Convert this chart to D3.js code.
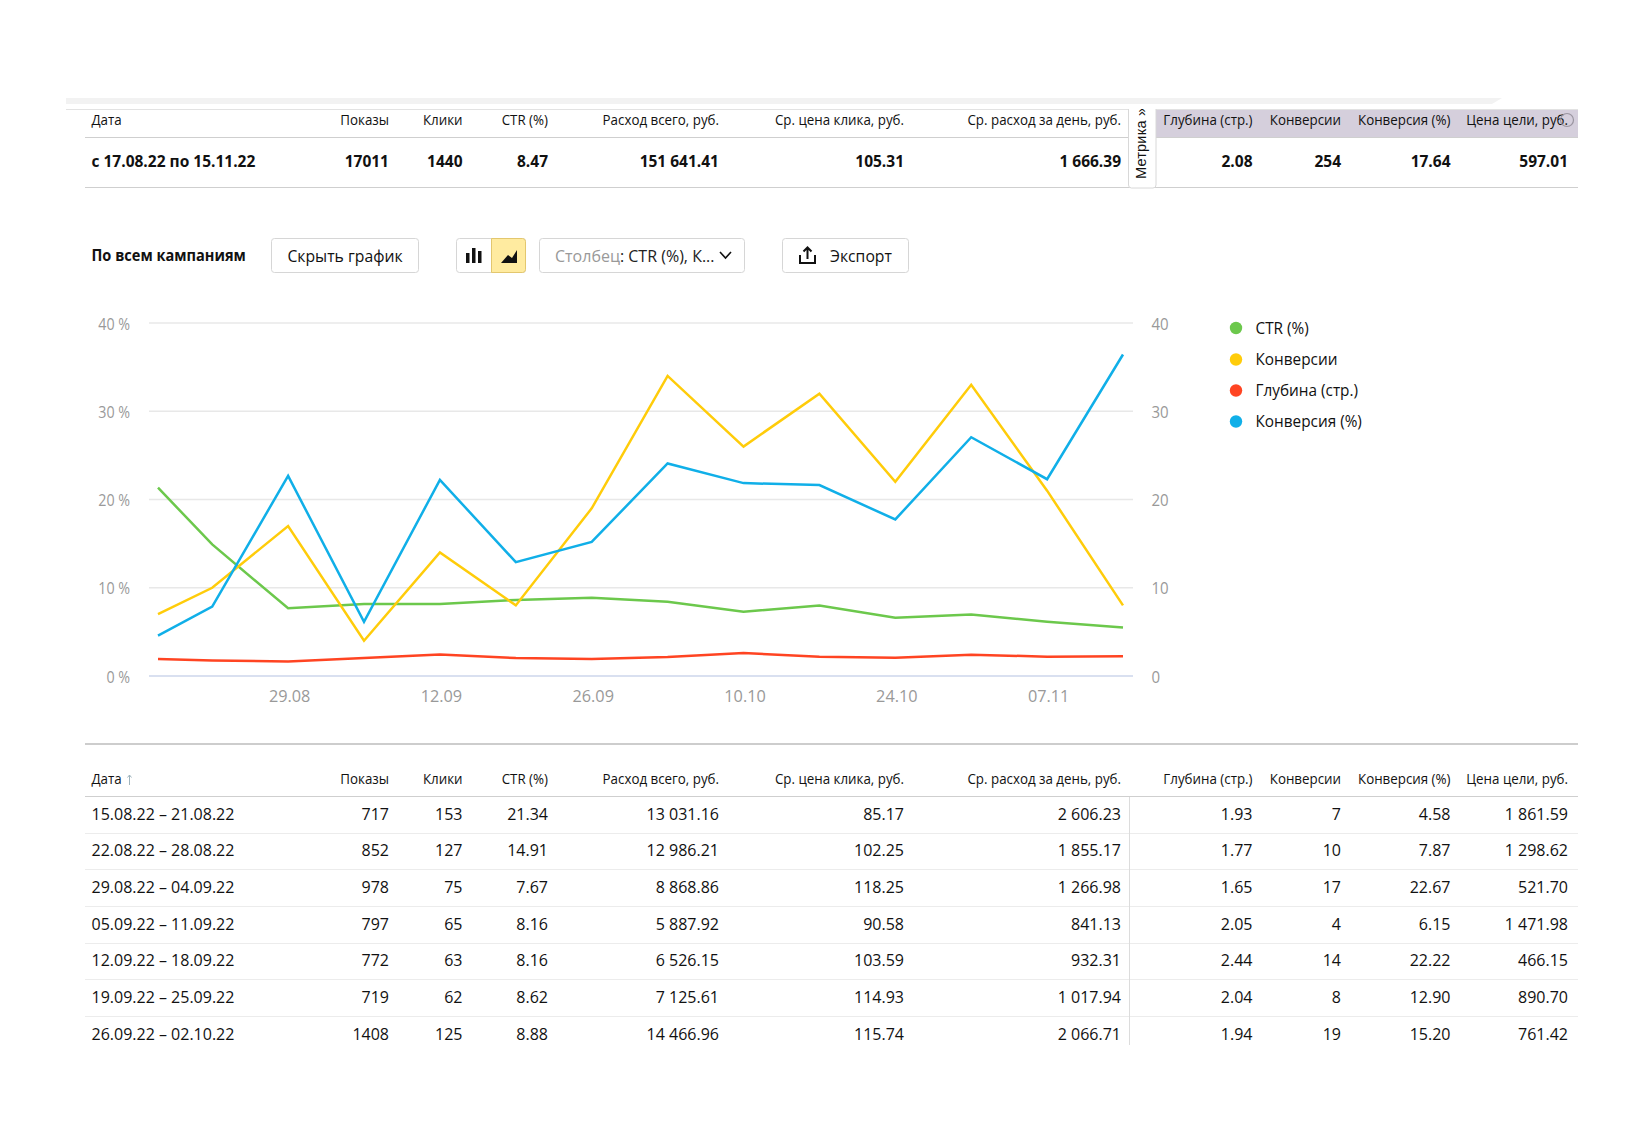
<!DOCTYPE html>
<html lang="ru">
<head>
<meta charset="utf-8">
<title>Статистика по кампаниям</title>
<script src="https://cdn.jsdelivr.net/npm/d3@7"></script>
<style>
  html, body { margin: 0; padding: 0; background: #fff; }
  svg { display: block; font-family: "Open Sans", sans-serif; }
</style>
</head>
<body>
<svg id="page" width="1649" height="1143"></svg>
<script>
// Weekly points of the chart
const weekStarts = ["2022-08-17","2022-08-22","2022-08-29","2022-09-05","2022-09-12","2022-09-19","2022-09-26",
                    "2022-10-03","2022-10-10","2022-10-17","2022-10-24","2022-10-31","2022-11-07","2022-11-14"];
const ctrValues        = [21.34,14.91,7.67,8.16,8.16,8.62,8.88,8.42,7.28,8.0,6.6,6.98,6.15,5.5];
const conversionValues = [7,10,17,4,14,8,19,34,26,32,22,33,21,8];
const depthValues      = [1.93,1.77,1.65,2.05,2.44,2.04,1.94,2.15,2.6,2.19,2.08,2.42,2.19,2.24];
const conversionPct    = [4.58,7.87,22.67,6.15,22.22,12.90,15.20,24.08,21.86,21.63,17.74,27.06,22.3,36.43];

const seriesNames  = ["CTR (%)","Конверсии","Глубина (стр.)","Конверсия (%)"];
const seriesColors = ["#6cc84c","#ffcc0a","#ff4422","#10afe8"];
const seriesValues = [ctrValues, conversionValues, depthValues, conversionPct];

const yTickValues = [0,10,20,30,40];
const xTickValues = ["2022-08-29","2022-09-12","2022-09-26","2022-10-10","2022-10-24","2022-11-07"];

// Table columns
const columnTitles = ["Показы","Клики","CTR (%)","Расход всего, руб.","Ср. цена клика, руб.","Ср. расход за день, руб.",
                      "Глубина (стр.)","Конверсии","Конверсия (%)","Цена цели, руб."];
const columnRight  = [389,462.5,548,719,904,1121,1252.5,1341,1450.5,1568];
const totalLabel   = "с 17.08.22 по 15.11.22";
const totalRow     = ["17011","1440","8.47","151 641.41","105.31","1 666.39","2.08","254","17.64","597.01"];
const rowLabels    = ["15.08.22 – 21.08.22","22.08.22 – 28.08.22","29.08.22 – 04.09.22","05.09.22 – 11.09.22",
                      "12.09.22 – 18.09.22","19.09.22 – 25.09.22","26.09.22 – 02.10.22"];
const tableRows = [
  ["717","153","21.34","13 031.16","85.17","2 606.23","1.93","7","4.58","1 861.59"],
  ["852","127","14.91","12 986.21","102.25","1 855.17","1.77","10","7.87","1 298.62"],
  ["978","75","7.67","8 868.86","118.25","1 266.98","1.65","17","22.67","521.70"],
  ["797","65","8.16","5 887.92","90.58","841.13","2.05","4","6.15","1 471.98"],
  ["772","63","8.16","6 526.15","103.59","932.31","2.44","14","22.22","466.15"],
  ["719","62","8.62","7 125.61","114.93","1 017.94","2.04","8","12.90","890.70"],
  ["1408","125","8.88","14 466.96","115.74","2 066.71","1.94","19","15.20","761.42"]
];
const rowCenters = [814,849.5,887,924,960,997,1034];
const rowRules   = [833.5,869.5,906.5,943.5,979.5,1016.5];

const svg = d3.select("#page");
const parseDay = d3.utcParse("%Y-%m-%d");

// Horizontal condensing per kind of text
const HEAD = 0.92, CELL = 1.0, BOLD = 1.0, TOOL = 0.955, LEGEND = 0.93;

function label(parent, str, x, y, opts = {}) {
  return parent.append("text")
    .attr("transform", `translate(${x},${y}) scale(${opts.squeeze || 1},1)`)
    .attr("text-anchor", opts.anchor || "start")
    .attr("dominant-baseline", "central")
    .attr("font-size", opts.size || 15)
    .attr("font-weight", opts.weight || 400)
    .attr("fill", opts.fill || "#111")
    .text(str);
}
function rule(x1, x2, y, color, w = 1) {
  svg.append("line").attr("x1", x1).attr("x2", x2).attr("y1", y).attr("y2", y)
    .attr("stroke", color).attr("stroke-width", w);
}

// Summary block
svg.append("path").attr("d", "M66,98H1502L1492,104H66Z").attr("fill", "#f2f2f2");
rule(66, 1578, 109.5, "#e2e2e2", 1);
svg.append("rect").attr("x", 1156).attr("y", 110).attr("width", 422).attr("height", 28).attr("fill", "#d5cfdc");
rule(85, 1578, 137.5, "#cfcfcf", 1);
rule(85, 1578, 187.5, "#cfcfcf", 1);

label(svg, "Дата", 91.5, 119.5, { size: 14.5, squeeze: HEAD });
label(svg, totalLabel, 91.5, 161, { weight: 700, size: 15.5, squeeze: BOLD });
columnTitles.forEach((t, i) => label(svg, t, columnRight[i], 119.5, { anchor: "end", size: 14.5, squeeze: HEAD }));
totalRow.forEach((t, i) => label(svg, t, columnRight[i], 161, { anchor: "end", weight: 700, size: 15.5, squeeze: BOLD }));

svg.append("circle").attr("cx", 1567).attr("cy", 120).attr("r", 6.5)
  .attr("fill", "none").attr("stroke", "#9a95a0").attr("stroke-width", 1.2);

// Collapsed side tab, its text cut off at the top edge
svg.append("clipPath").attr("id", "tabClip").append("rect")
  .attr("x", 1128).attr("y", 109).attr("width", 29).attr("height", 80);
svg.append("path").attr("d", "M1128.5,109V185a3,3 0 0 0 3,3H1153a3,3 0 0 0 3,-3V109")
  .attr("fill", "#fff").attr("stroke", "#d8d8d8");
svg.append("g").attr("clip-path", "url(#tabClip)").append("text")
  .attr("transform", "translate(1141,179) rotate(-90)")
  .attr("dominant-baseline", "central")
  .attr("font-family", "'Liberation Sans', sans-serif")
  .attr("font-size", 14.5).attr("letter-spacing", 0.2).attr("fill", "#111")
  .text("Метрика »");

// Toolbar
label(svg, "По всем кампаниям", 91.5, 255, { weight: 700, size: 15.5, squeeze: 0.94 });
function button(x, w, fill = "#fff") {
  svg.append("rect").attr("x", x + .5).attr("y", 238.5).attr("width", w).attr("height", 34).attr("rx", 3)
    .attr("fill", fill).attr("stroke", "#d6d6d6");
}
button(271, 147);
label(svg, "Скрыть график", 345, 255.5, { anchor: "middle", size: 16.5, squeeze: TOOL });

button(456, 69);
svg.append("path").attr("d", "M491.5,238.5H522.5a3,3 0 0 1 3,3V269.5a3,3 0 0 1 -3,3H491.5Z")
  .attr("fill", "#ffeba0").attr("stroke", "#e3c76e");
svg.append("path").attr("d", "M466,263V253H469.5V263ZM472,263V248H475.5V263ZM478,263V251H481.5V263Z").attr("fill", "#111");
svg.append("path").attr("d", "M501,263L508,255L512,258L517,250V263Z").attr("fill", "#111");

button(539, 205);
const filterLabel = svg.append("text")
  .attr("transform", "translate(555,255.5) scale(0.97,1)")
  .attr("dominant-baseline", "central").attr("font-size", 16.5);
filterLabel.append("tspan").attr("fill", "#999").text("Столбец");
filterLabel.append("tspan").attr("fill", "#222").text(": CTR (%), К...");
svg.append("path").attr("d", "M720,252L725.5,258L731,252").attr("fill", "none").attr("stroke", "#111").attr("stroke-width", 1.6);

button(782, 126);
svg.append("path").attr("d", "M800,255V263H815V255M807.5,259V248M803.5,251.5L807.5,247.5L811.5,251.5")
  .attr("fill", "none").attr("stroke", "#111").attr("stroke-width", 2);
label(svg, "Экспорт", 830, 255.5, { size: 16.5, squeeze: TOOL });

// Chart
const x = d3.scaleUtc().domain([parseDay(weekStarts[0]), parseDay(weekStarts[13])]).range([158, 1123]);
const y = d3.scaleLinear().domain([0, 40]).range([676, 323]);
const gridLeft = 149, gridRight = 1133;

const leftAxis = d3.axisLeft(y).tickValues(yTickValues).tickSize(0).tickPadding(0).tickFormat(d => d + " %");
const gAxisL = svg.append("g").attr("transform", "translate(130,0)").call(leftAxis);
const rightAxis = d3.axisRight(y).tickValues(yTickValues).tickSize(0).tickPadding(0);
const gAxisR = svg.append("g").attr("transform", "translate(1151.5,0)").call(rightAxis);
const xAxis = d3.axisBottom(x).tickValues(xTickValues.map(parseDay)).tickSize(0).tickPadding(0).tickFormat(d3.utcFormat("%d.%m"));
const gAxisB = svg.append("g").attr("transform", "translate(1,696)").call(xAxis);

[gAxisL, gAxisR, gAxisB].forEach(g => {
  g.select(".domain").remove();
  g.attr("font-family", null).attr("font-size", null);
  g.selectAll("text")
    .attr("fill", "#999").attr("font-size", 15.5)
    .attr("dy", null).attr("y", null)
    .attr("dominant-baseline", "central");
});
gAxisL.selectAll("text").attr("x", 0).attr("transform", "scale(0.92,1)");
gAxisR.selectAll("text").attr("x", 0).attr("transform", "scale(0.97,1)");
gAxisB.selectAll("text").attr("transform", "scale(1.05,1)");

svg.append("g").selectAll("line").data(yTickValues).join("line")
  .attr("x1", gridLeft).attr("x2", gridRight)
  .attr("y1", d => y(d)).attr("y2", d => y(d))
  .attr("stroke", d => d === 0 ? "#ccd6eb" : "#e8e8e8").attr("stroke-width", 1.5);

const lineGen = d3.line()
  .x((d, i) => x(parseDay(weekStarts[i])))
  .y(d => y(d));
svg.append("g").selectAll("path").data(seriesValues).join("path")
  .attr("d", d => lineGen(d))
  .attr("fill", "none")
  .attr("stroke", (d, i) => seriesColors[i])
  .attr("stroke-width", 2.5)
  .attr("stroke-linejoin", "miter");

// Legend
const legendY = [328, 359.5, 390.5, 421.5];
seriesNames.forEach((name, i) => {
  svg.append("circle").attr("cx", 1236).attr("cy", legendY[i]).attr("r", 6.2).attr("fill", seriesColors[i]);
  label(svg, name, 1255.5, legendY[i] - 0.6, { size: 16.5, squeeze: LEGEND });
});

// Weekly table
rule(85, 1578, 744, "#cdcdcd", 2);
label(svg, "Дата", 91.5, 778.5, { size: 14.5, squeeze: HEAD });
svg.append("path").attr("d", "M129.5,785V775M127.5,777.5L129.5,775L131.5,777.5").attr("fill", "none").attr("stroke", "#9fb4bd");
columnTitles.forEach((t, i) => label(svg, t, columnRight[i], 778.5, { anchor: "end", size: 14.5, squeeze: HEAD }));
rule(85, 1578, 796.5, "#cfcfcf", 1);
rowRules.forEach(r => rule(85, 1578, r, "#ececec", 1));
svg.append("line").attr("x1", 1129.5).attr("x2", 1129.5).attr("y1", 797).attr("y2", 1045).attr("stroke", "#dcdcdc");

tableRows.forEach((row, r) => {
  label(svg, rowLabels[r], 91.5, rowCenters[r], { size: 16, squeeze: CELL });
  row.forEach((t, i) => label(svg, t, columnRight[i], rowCenters[r], { anchor: "end", size: 16, squeeze: CELL }));
});
</script>
</body>
</html>
